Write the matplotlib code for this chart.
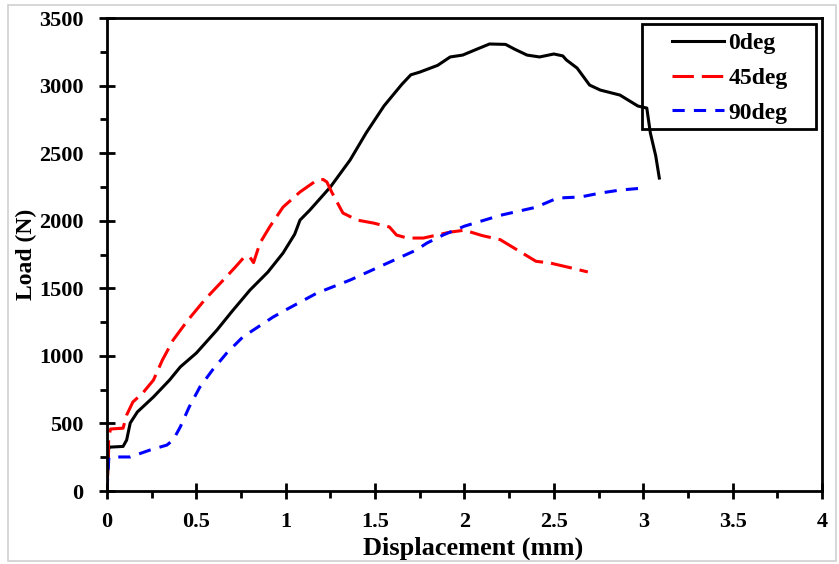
import matplotlib.pyplot as plt
from matplotlib.patches import Rectangle
from matplotlib.ticker import MultipleLocator

plt.rcParams['font.family'] = ['Liberation Serif', 'DejaVu Serif']
plt.rcParams['font.weight'] = 'bold'

# 0 deg specimen
disp_0 = [0, 0.01, 0.02, 0.09, 0.11, 0.13, 0.17, 0.26, 0.35, 0.41, 0.50, 0.615,
          0.70, 0.80, 0.90, 0.985, 1.05, 1.08, 1.135, 1.25, 1.36, 1.45, 1.55,
          1.65, 1.70, 1.75, 1.85, 1.92, 1.99, 2.07, 2.14, 2.23, 2.28, 2.35,
          2.42, 2.50, 2.55, 2.57, 2.63, 2.70, 2.76, 2.87, 2.97, 3.02, 3.04,
          3.07, 3.09]
load_0 = [0, 330, 325, 330, 377, 503, 585, 696, 821, 918, 1021, 1191,
          1330, 1487, 1620, 1761, 1900, 2005, 2079, 2250, 2449, 2650, 2850,
          3010, 3080, 3100, 3150, 3212, 3226, 3270, 3308, 3305, 3270, 3226,
          3212, 3234, 3220, 3190, 3130, 3004, 2967, 2930, 2849, 2834, 2649,
          2480, 2316]

# 45 deg specimen
disp_45 = [0, 0.01, 0.02, 0.09, 0.11, 0.145, 0.2, 0.26, 0.31, 0.37, 0.45,
           0.55, 0.65, 0.72, 0.77, 0.80, 0.82, 0.856, 0.91, 0.985, 1.08,
           1.175, 1.21, 1.23, 1.26, 1.32, 1.40, 1.49, 1.58, 1.62, 1.68, 1.77,
           1.92, 2.0, 2.1, 2.2, 2.3, 2.4, 2.48, 2.6, 2.69]
load_45 = [0, 400, 459, 465, 562, 659, 725, 821, 969, 1117, 1260,
           1420, 1560, 1660, 1735, 1730, 1690, 1835, 1954, 2101, 2213,
           2301, 2305, 2287, 2205, 2057, 2005, 1983, 1954, 1894, 1872, 1872,
           1916, 1930, 1890, 1860, 1780, 1700, 1687, 1650, 1621]

# 90 deg specimen
disp_90 = [0, 0.01, 0.017, 0.13, 0.24, 0.335, 0.37, 0.41, 0.46, 0.52, 0.59,
           0.67, 0.76, 0.93, 1.0, 1.175, 1.36, 1.545, 1.73, 1.79, 1.88, 2.0,
           2.2, 2.4, 2.52, 2.65, 2.76, 2.87, 3.0]
load_90 = [0, 240, 252, 252, 303, 340, 377, 474, 622, 770, 895,
           1021, 1140, 1288, 1340, 1465, 1561, 1672, 1783, 1835, 1894, 1960,
           2040, 2100, 2168, 2176, 2205, 2227, 2242]

xticks = [0, 0.5, 1, 1.5, 2, 2.5, 3, 3.5, 4]
xtick_labels = ['0', '0.5', '1', '1.5', '2', '2.5', '3', '3.5', '4']

fig = plt.figure(figsize=(8.39, 5.64), dpi=100)
ax = fig.add_axes([0.1275, 0.1294, 0.8522, 0.8386])

lw = 2.2
ax.plot(disp_0, load_0, color='black', lw=lw, label='0deg')
ax.plot(disp_45, load_45, color='red', lw=lw, dashes=(7, 2.6), label='45deg')
ax.plot(disp_90, load_90, color='blue', lw=lw, dashes=(4, 3), label='90deg')

ax.set_xlim(0, 4)
ax.set_ylim(0, 3500)
ax.set_xticks(xticks)
ax.set_xticklabels(xtick_labels)
ax.xaxis.set_minor_locator(MultipleLocator(0.25))
ax.yaxis.set_major_locator(MultipleLocator(500))
ax.yaxis.set_minor_locator(MultipleLocator(250))

ax.tick_params(which='major', direction='inout', length=12, width=2,
               labelsize=16, pad=11)
ax.tick_params(which='minor', direction='out', length=5, width=2)
ax.tick_params(axis='x', which='major', pad=9)
for s in ax.spines.values():
    s.set_linewidth(2)

ax.set_xlabel('Displacement (mm)', fontsize=19, fontweight='bold')
ax.set_ylabel('Load (N)', fontsize=17, fontweight='bold')
ax.xaxis.set_label_coords(0.5126, -0.122)
ax.xaxis.label.set_verticalalignment('center')
ax.yaxis.set_label_coords(-0.113, 0.501)
ax.yaxis.label.set_verticalalignment('center')

# legend entries without their own frame; the box is drawn separately
leg = ax.legend(loc='center left', bbox_to_anchor=(0.790, 0.873),
                frameon=False, borderpad=0, borderaxespad=0,
                handlelength=2.2, fontsize=17, labelspacing=0.56,
                handletextpad=0.2)
ax.add_patch(Rectangle((0.748, 0.765), 0.2436, 0.222, transform=ax.transAxes,
                       fill=False, edgecolor='black', lw=2, zorder=5))

# light grey border round the whole figure
fig.patches.append(Rectangle((0.0095, 0.0053), 0.987, 0.9857, transform=fig.transFigure,
                             fill=False, edgecolor='#d0d0d0', lw=1.2))

fig.savefig('out.png', dpi=100)
